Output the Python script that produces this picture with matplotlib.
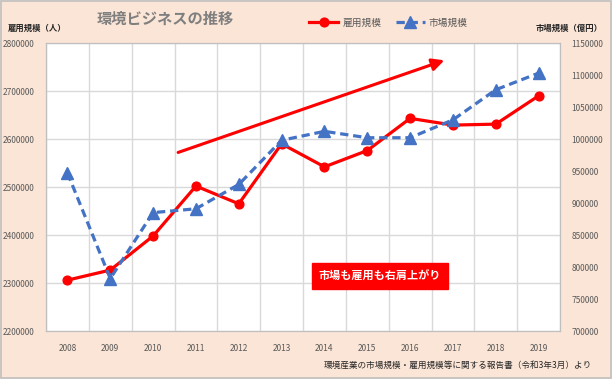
import matplotlib
matplotlib.use("Agg")
import matplotlib.pyplot as plt
from matplotlib.patches import Rectangle
from matplotlib.lines import Line2D
import numpy as np

plt.rcParams['font.family'] = ['Noto Sans CJK JP', 'DejaVu Sans']

years = ['2008', '2009', '2010', '2011', '2012', '2013',
         '2014', '2015', '2016', '2017', '2018', '2019']
employment = [2306000, 2327000, 2398000, 2502000, 2465000, 2590000,
              2542000, 2576000, 2643000, 2629000, 2631000, 2690000]
market = [947000, 782000, 885000, 891000, 929000, 998000,
          1012000, 1002000, 1002000, 1030000, 1077000, 1103000]

bg = '#FBE5D6'
red = '#FF0000'
blue = '#4472C4'
txt = '#595959'

fig = plt.figure(figsize=(6.12, 3.79), dpi=100, facecolor=bg)
fig.patches.append(Rectangle((0.002, 0.003), 0.996, 0.994, transform=fig.transFigure,
                             fill=False, edgecolor='#BFBFBF', lw=1.2))

ax = fig.add_axes([0.0752, 0.1266, 0.8399, 0.7599])
ax.set_facecolor('white')
x = np.arange(len(years))

ax.plot(x, employment, color=red, lw=2.3, marker='o', ms=6.3, zorder=3)
ax.set_xlim(-0.5, len(years) - 0.5)
ax.set_ylim(2200000, 2800000)
ax.set_yticks(np.arange(2200000, 2800001, 100000))
ax.set_yticklabels([str(v) for v in range(2200000, 2800001, 100000)])
ax.set_xticks(x)
ax.set_xticklabels(years)
ax.set_xticks(np.arange(-0.5, len(years)), minor=True)
ax.grid(True, which='minor', axis='x', color='#D9D9D9', lw=1)
ax.grid(True, which='major', axis='y', color='#D9D9D9', lw=1)
ax.tick_params(which='both', length=0, labelsize=6, colors=txt)
ax.tick_params(axis='x', pad=9)
ax.tick_params(axis='y', pad=8)
for s in ax.spines.values():
    s.set_color('#BFBFBF')
ax.set_axisbelow(True)

ax2 = ax.twinx()
ax2.plot(x, market, color=blue, lw=2.3, ls=(0, (2.6, 1.5)), marker='^', ms=8, zorder=3)
ax2.set_ylim(700000, 1150000)
ax2.set_yticks(np.arange(700000, 1150001, 50000))
ax2.set_yticklabels([str(v) for v in range(700000, 1150001, 50000)])
ax2.tick_params(length=0, labelsize=6, colors=txt, pad=8)
for s in ax2.spines.values():
    s.set_color('#BFBFBF')

# trend arrow
ax.annotate('', xy=(0.775, 0.94), xytext=(0.257, 0.62), xycoords='axes fraction',
            arrowprops=dict(arrowstyle='-|>', color=red, lw=2.2,
                            mutation_scale=18, shrinkA=0, shrinkB=0))

ax.text(0.65, 0.19, '市場も雇用も右肩上がり', transform=ax.transAxes, ha='center', va='center',
        color='white', fontsize=8, fontweight='bold',
        bbox=dict(boxstyle='square,pad=0.6', fc=red, ec=red))

fig.text(0.27, 0.95, '環境ビジネスの推移', ha='center', va='center', fontsize=11,
         fontweight='bold', color='#7F7F7F')
fig.text(0.013, 0.925, '雇用規模（人）', ha='left', va='center', fontsize=6,
         fontweight='bold', color='#262626')
fig.text(0.985, 0.925, '市場規模（億円）', ha='right', va='center', fontsize=6,
         fontweight='bold', color='#262626')
fig.text(0.968, 0.035, '環境産業の市場規模・雇用規模等に関する報告書（令和3年3月）より',
         ha='right', va='center', fontsize=6.2, color='#262626')

handles = [Line2D([], [], color=red, lw=2.3, marker='o', ms=6.3),
           Line2D([], [], color=blue, lw=2.3, ls=(0, (2.6, 1.5)), marker='^', ms=8)]
fig.legend(handles, ['雇用規模', '市場規模'], loc='center', bbox_to_anchor=(0.635, 0.94),
           ncol=2, frameon=False, fontsize=7, labelcolor=txt, handlelength=3,
           columnspacing=1.5, handletextpad=0.4)

fig.savefig('out.png', dpi=100, facecolor=bg)
